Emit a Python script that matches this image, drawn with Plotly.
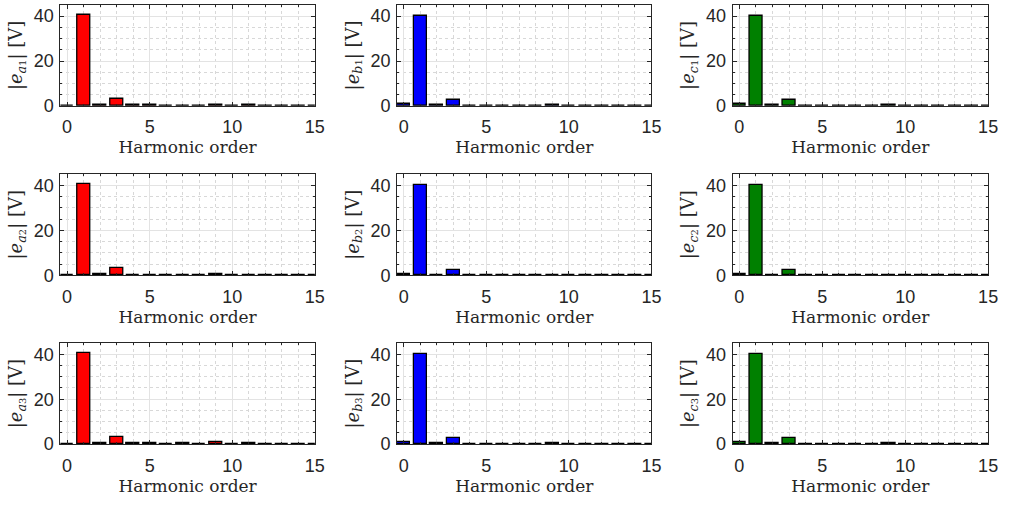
import plotly.graph_objects as go

harmonics = list(range(16))

e_a1 = [0.2, 40.5, 0.5, 3.2, 0.3, 0.3, 0.1, 0.2, 0.1, 0.6, 0.1, 0.3, 0.1, 0.1, 0.1, 0.1]
e_a2 = [0.2, 40.5, 0.5, 3.1, 0.3, 0.3, 0.1, 0.2, 0.1, 0.6, 0.1, 0.3, 0.1, 0.1, 0.1, 0.1]
e_a3 = [0.2, 40.6, 0.6, 3.2, 0.4, 0.4, 0.1, 0.3, 0.1, 0.7, 0.1, 0.3, 0.1, 0.1, 0.1, 0.1]
e_b1 = [0.7, 40.3, 0.4, 2.7, 0.1, 0.1, 0.1, 0.2, 0.1, 0.4, 0.1, 0.2, 0.1, 0.1, 0.1, 0.1]
e_b2 = [0.7, 40.3, 0.4, 2.6, 0.1, 0.1, 0.1, 0.2, 0.1, 0.4, 0.1, 0.2, 0.1, 0.1, 0.1, 0.1]
e_b3 = [0.7, 40.3, 0.4, 2.6, 0.1, 0.1, 0.1, 0.2, 0.1, 0.4, 0.1, 0.2, 0.1, 0.1, 0.1, 0.1]
e_c1 = [0.7, 40.3, 0.4, 2.7, 0.1, 0.1, 0.1, 0.2, 0.1, 0.4, 0.1, 0.2, 0.1, 0.1, 0.1, 0.1]
e_c2 = [0.7, 40.3, 0.4, 2.6, 0.1, 0.1, 0.1, 0.2, 0.1, 0.4, 0.1, 0.2, 0.1, 0.1, 0.1, 0.1]
e_c3 = [0.7, 40.3, 0.4, 2.6, 0.1, 0.1, 0.1, 0.2, 0.1, 0.4, 0.1, 0.2, 0.1, 0.1, 0.1, 0.1]

series = [
    [e_a1, e_b1, e_c1],
    [e_a2, e_b2, e_c2],
    [e_a3, e_b3, e_c3],
]
phases = ["a", "b", "c"]
colors = ["#ff0000", "#0000ff", "#008000"]
subs = ["1", "2", "3"]

W, H = 1011, 508
col_px = [(61, 318), (401, 658), (740, 998)]
row_px = [(5, 108), (177.5, 281), (350, 453)]

fig = go.Figure()
serif = "DejaVu Serif"
sans = "Liberation Sans"

idx = 0
for r in range(3):
    for c in range(3):
        idx += 1
        xa = "x" if idx == 1 else f"x{idx}"
        ya = "y" if idx == 1 else f"y{idx}"
        fig.add_trace(go.Bar(
            x=harmonics, y=series[r][c], width=0.8,
            marker=dict(color=colors[c], line=dict(color="black", width=1.3)),
            xaxis=xa, yaxis=ya, showlegend=False,
        ))
        x0, x1 = col_px[c]
        y0, y1 = row_px[r]
        xdom = [x0 / W, x1 / W]
        ydom = [1 - y1 / H, 1 - y0 / H]
        axcommon = dict(
            showline=True, linecolor="#262626", linewidth=1, mirror="ticks",
            ticks="inside", ticklen=4, tickcolor="#262626",
            showgrid=True, gridcolor="#e3e3e3", gridwidth=1,
            zeroline=False,
            tickfont=dict(family=sans, size=18, color="#262626"),
        )
        fig.layout[("xaxis" if idx == 1 else f"xaxis{idx}")] = dict(
            axcommon, domain=xdom, anchor=ya, range=[-0.4, 15],
            tickvals=[0, 5, 10, 15], ticklabelstandoff=5,
            minor=dict(dtick=1, tick0=0, showgrid=True, griddash="dot",
                       gridcolor="#d8d8d8", gridwidth=1, ticks="inside", ticklen=2),
            title=dict(text="Harmonic order", font=dict(family=serif, size=17, color="#262626"),
                       standoff=3),
        )
        fig.layout[("yaxis" if idx == 1 else f"yaxis{idx}")] = dict(
            axcommon, domain=ydom, anchor=xa, range=[0, 45],
            tickvals=[0, 20, 40], ticklabelstandoff=2,
            minor=dict(dtick=5, tick0=0, showgrid=True, griddash="dot",
                       gridcolor="#d8d8d8", gridwidth=1, ticks="inside", ticklen=2),
            title=dict(text=(f"|<i>e</i><sub><i>{phases[c]}</i>"
                             f"<span style='font-size:10px'>{subs[r]}</span></sub>| [V]"),
                       font=dict(family=serif, size=18, color="#262626"), standoff=6),
        )

fig.update_layout(
    width=W, height=H, margin=dict(l=0, r=0, t=0, b=0),
    paper_bgcolor="white", plot_bgcolor="white", bargap=0,
)
fig.write_html("out.html")
